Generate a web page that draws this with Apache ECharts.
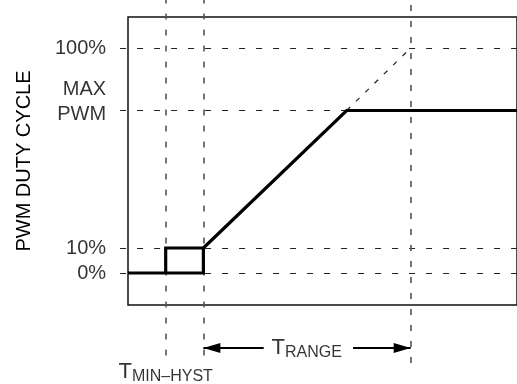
<!DOCTYPE html>
<html>
<head>
<meta charset="utf-8">
<script src="https://cdn.jsdelivr.net/npm/echarts@6/dist/echarts.min.js"></script>
<style>
  html, body { margin: 0; padding: 0; background: #fff; }
  #chart { width: 517px; height: 384px; }
</style>
</head>
<body>
<div id="chart"></div>
<script>
// duty cycle curve (x = temperature units, y = duty %)
const loopX = [0, 20, 20, 10, 10]
const loopY = [0, 0, 10, 10, 0]
const rampX = [20, 58, 103.2]
const rampY = [10, 65, 65]
const extraX = [58, 75] // dashed continuation up to 100%
const extraY = [65, 90]

// guide lines
const yTicks = [0, 10, 65, 90]
const yTickLabels = ['0%', '10%', 'MAX\nPWM', '100%']
const xMarks = [10, 20, 75] // Tmin-hyst, Tmin, Tmin+Trange

const font = 'Liberation Sans, Arial, sans-serif'
const X_MIN = 0, X_MAX = 103.2
const Y_MIN = -12.8, Y_MAX = 102.4
const GUIDE_LEFT = -2.1
const ARROW_Y = -30

const chart = echarts.init(document.getElementById('chart'))

const arrowHead = 'path://M0,0 M40,40 M20,20 L25,37 L15,37 Z'

const option = {
  animation: false,
  textStyle: { fontFamily: font },
  grid: {
    left: 128, top: 17, right: -3, bottom: 79,
    show: true, borderColor: '#111', borderWidth: 1.5
  },
  xAxis: {
    type: 'value', min: X_MIN, max: X_MAX,
    axisLine: { show: false }, axisTick: { show: false },
    axisLabel: { show: false }, splitLine: { show: false }
  },
  yAxis: {
    type: 'value', min: Y_MIN, max: Y_MAX,
    axisLine: { show: false }, axisTick: { show: false },
    axisLabel: { show: false }, splitLine: { show: false },
    name: 'PWM DUTY CYCLE', nameLocation: 'middle', nameRotate: 90, nameGap: 94,
    nameTextStyle: { fontSize: 20, color: '#000', fontFamily: font }
  },
  series: [
    { // horizontal dashed guides
      type: 'lines', coordinateSystem: 'cartesian2d', clip: false, silent: true,
      lineStyle: { color: '#222', width: 1, type: [6, 11], opacity: 1 },
      data: yTicks.map(v => ({ coords: [[GUIDE_LEFT, v], [X_MAX + 2, v]] }))
    },
    { // vertical dashed guides
      type: 'lines', coordinateSystem: 'cartesian2d', clip: false, silent: true,
      lineStyle: { color: '#555', width: 1.6, type: [6, 10], opacity: 1 },
      data: xMarks.map((v, i) => ({ coords: [[v, i === 2 ? -36 : -33], [v, 110]] }))
    },
    {
      type: 'line', clip: false, symbol: 'none', silent: true,
      lineStyle: { color: '#222', width: 1.2, type: [5, 8] },
      data: extraX.map((x, i) => [x, extraY[i]])
    },
    {
      type: 'line', clip: false, symbol: 'none', silent: true,
      lineStyle: { color: '#000', width: 3.2, join: 'miter' },
      data: loopX.map((x, i) => [x, loopY[i]])
    },
    {
      type: 'line', clip: false, symbol: 'none', silent: true,
      lineStyle: { color: '#000', width: 3.2, join: 'miter' },
      data: rampX.map((x, i) => [x, rampY[i]])
    },
    { // T range arrows
      type: 'lines', coordinateSystem: 'cartesian2d', clip: false, silent: true,
      symbol: ['none', arrowHead], symbolSize: 40,
      lineStyle: { color: '#000', width: 2, opacity: 1 },
      data: [
        { coords: [[36, ARROW_Y], [xMarks[1], ARROW_Y]] },
        { coords: [[59.7, ARROW_Y], [xMarks[2], ARROW_Y]] }
      ]
    },
    { // y tick labels
      type: 'scatter', clip: false, symbolSize: 0, silent: true,
      label: {
        show: true, position: 'left', distance: 14,
        fontSize: 20, color: '#000', fontFamily: font, align: 'right'
      },
      data: yTicks.map((v, i) => ({
        value: [GUIDE_LEFT, v],
        label: i === 2
          ? { formatter: yTickLabels[i], lineHeight: 25, offset: [0, -9] }
          : { formatter: yTickLabels[i] }
      }))
    },
    { // T labels
      type: 'scatter', clip: false, symbolSize: 0, silent: true,
      label: {
        show: true, position: 'inside', color: '#000',
        rich: {
          t: { fontSize: 22, lineHeight: 26, color: '#000', fontFamily: font },
          s: { fontSize: 16, lineHeight: 12, verticalAlign: 'bottom', color: '#000', fontFamily: font }
        }
      },
      data: [
        { value: [10, -39.6], label: { formatter: '{t|T}{s|MIN\u2013HYST}' } },
        { value: [47.4, ARROW_Y], label: { formatter: '{t|T}{s|RANGE}' } }
      ]
    }
  ]
}

chart.setOption(option)
</script>
</body>
</html>
